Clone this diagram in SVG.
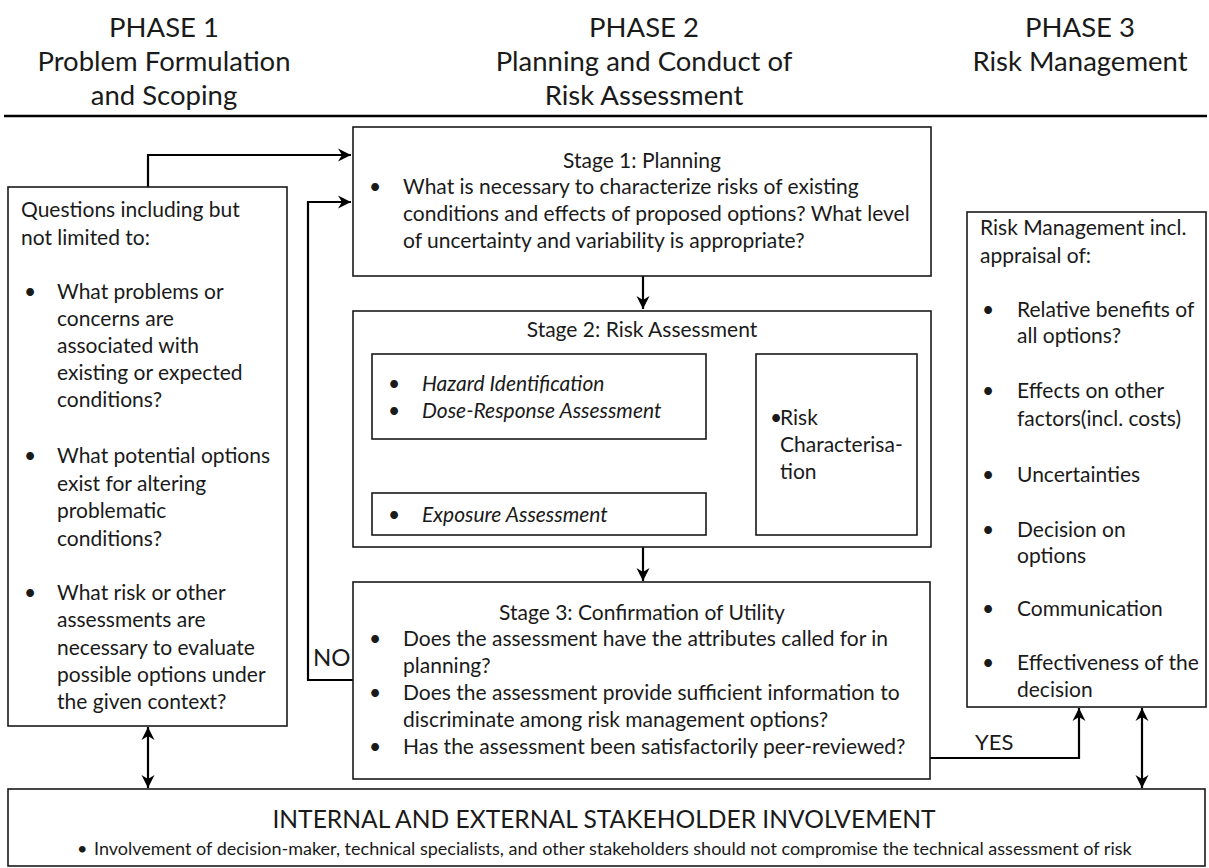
<svg xmlns="http://www.w3.org/2000/svg" width="1209" height="868" viewBox="0 0 1209 868">
<style>
text{font-family:Lato,"Liberation Sans",sans-serif;fill:#1a1a1a;}
.hd{font-size:27.5px;text-anchor:middle;}
.b{font-size:21px;}
.t{font-size:21px;text-anchor:middle;}
.i{font-size:21px;font-style:italic;}
.box{fill:#fff;stroke:#1a1a1a;stroke-width:1.6;}
.con{fill:none;stroke:#000;stroke-width:2.2;}
</style>
<defs>
<marker id="ah" markerUnits="userSpaceOnUse" markerWidth="16" markerHeight="16" refX="14" refY="8" orient="auto-start-reverse">
<path d="M1,1.5 L14,8 L1,14.5 L5,8 Z" fill="#000"/>
</marker>
</defs>
<rect width="1209" height="868" fill="#fff"/>

<g id="headers">
<text class="hd" x="164" y="37">PHASE 1</text>
<text class="hd" x="164" y="71">Problem Formulation</text>
<text class="hd" x="164" y="105">and Scoping</text>
<text class="hd" x="644" y="37">PHASE 2</text>
<text class="hd" x="644" y="71">Planning and Conduct of</text>
<text class="hd" x="644" y="105">Risk Assessment</text>
<text class="hd" x="1080" y="37">PHASE 3</text>
<text class="hd" x="1080" y="71">Risk Management</text>
<line x1="4" y1="116" x2="1207" y2="116" stroke="#000" stroke-width="2.5"/>
</g>

<g id="connectors">
<path class="con" d="M148,187 V155 H351" marker-end="url(#ah)"/>
<path class="con" d="M353,680 H308 V202 H351" marker-end="url(#ah)"/>
<path class="con" d="M643,276 V309" marker-end="url(#ah)"/>
<path class="con" d="M540,439 V493"/>
<path class="con" d="M540,470 H754" marker-end="url(#ah)"/>
<path class="con" d="M643,547 V581" marker-end="url(#ah)"/>
<path class="con" d="M930,758 H1079 V708" marker-end="url(#ah)"/>
<path class="con" d="M1142,708 V788" marker-start="url(#ah)" marker-end="url(#ah)"/>
<path class="con" d="M148,727 V788" marker-start="url(#ah)" marker-end="url(#ah)"/>
</g>

<g id="questions">
<rect class="box" x="8" y="187" width="279" height="539"/>
<text class="b" x="21" y="217">Questions including but</text>
<text class="b" x="21" y="245">not limited to:</text>
<text class="b" x="24" y="299">•</text>
<text class="b" x="57" y="299">What problems or</text>
<text class="b" x="57" y="326">concerns are</text>
<text class="b" x="57" y="353">associated with</text>
<text class="b" x="57" y="380">existing or expected</text>
<text class="b" x="57" y="407">conditions?</text>
<text class="b" x="24" y="463">•</text>
<text class="b" x="57" y="463">What potential options</text>
<text class="b" x="57" y="491">exist for altering</text>
<text class="b" x="57" y="518">problematic</text>
<text class="b" x="57" y="546">conditions?</text>
<text class="b" x="24" y="600">•</text>
<text class="b" x="57" y="600">What risk or other</text>
<text class="b" x="57" y="627">assessments are</text>
<text class="b" x="57" y="655">necessary to evaluate</text>
<text class="b" x="57" y="682">possible options under</text>
<text class="b" x="57" y="709">the given context?</text>
</g>

<g id="stage1">
<rect class="box" x="353" y="127" width="578" height="149"/>
<text class="t" x="642" y="168">Stage 1: Planning</text>
<text class="b" x="369" y="194">•</text>
<text class="b" x="403" y="194">What is necessary to characterize risks of existing</text>
<text class="b" x="403" y="221">conditions and effects of proposed options? What level</text>
<text class="b" x="403" y="248">of uncertainty and variability is appropriate?</text>
</g>

<g id="stage2">
<rect class="box" x="353" y="311" width="578" height="236"/>
<text class="t" x="642" y="337">Stage 2: Risk Assessment</text>
</g>

<g id="hazard">
<rect class="box" x="372" y="354" width="334" height="85"/>
<text class="b" x="388" y="391">•</text>
<text class="i" x="422" y="391">Hazard Identification</text>
<text class="b" x="388" y="418">•</text>
<text class="i" x="422" y="418">Dose-Response Assessment</text>
</g>

<g id="exposure">
<rect class="box" x="372" y="493" width="334" height="42"/>
<text class="b" x="388" y="522">•</text>
<text class="i" x="422" y="522">Exposure Assessment</text>
</g>

<g id="riskchar">
<rect class="box" x="756" y="354" width="161" height="181"/>
<text class="b" x="770" y="425">•</text>
<text class="b" x="780" y="425">Risk</text>
<text class="b" x="780" y="452">Characterisa-</text>
<text class="b" x="780" y="479">tion</text>
</g>

<g id="stage3">
<rect class="box" x="353" y="582" width="577" height="197"/>
<text class="t" x="642" y="620">Stage 3: Confirmation of Utility</text>
<text class="b" x="369" y="646">•</text>
<text class="b" x="403" y="646">Does the assessment have the attributes called for in</text>
<text class="b" x="403" y="673">planning?</text>
<text class="b" x="369" y="700">•</text>
<text class="b" x="403" y="700">Does the assessment provide sufficient information to</text>
<text class="b" x="403" y="727">discriminate among risk management options?</text>
<text class="b" x="369" y="754">•</text>
<text class="b" x="403" y="754">Has the assessment been satisfactorily peer-reviewed?</text>
</g>

<g id="labels">
<text class="b" x="313" y="666" style="font-size:24px">NO</text>
<text class="b" x="975" y="750" style="font-size:22px">YES</text>
</g>

<g id="riskmgmt">
<rect class="box" x="967" y="212" width="239" height="495"/>
<text class="b" x="980" y="235">Risk Management incl.</text>
<text class="b" x="980" y="263">appraisal of:</text>
<text class="b" x="982" y="317">•</text>
<text class="b" x="1017" y="317">Relative benefits of</text>
<text class="b" x="1017" y="343">all options?</text>
<text class="b" x="982" y="398">•</text>
<text class="b" x="1017" y="398">Effects on other</text>
<text class="b" x="1017" y="426">factors(incl. costs)</text>
<text class="b" x="982" y="482">•</text>
<text class="b" x="1017" y="482">Uncertainties</text>
<text class="b" x="982" y="537">•</text>
<text class="b" x="1017" y="537">Decision on</text>
<text class="b" x="1017" y="563">options</text>
<text class="b" x="982" y="616">•</text>
<text class="b" x="1017" y="616">Communication</text>
<text class="b" x="982" y="670">•</text>
<text class="b" x="1017" y="670">Effectiveness of the</text>
<text class="b" x="1017" y="697">decision</text>
</g>

<g id="stakeholder">
<rect class="box" x="8" y="789" width="1197" height="77"/>
<text x="604" y="828" style="font-size:24.6px;text-anchor:middle">INTERNAL AND EXTERNAL STAKEHOLDER INVOLVEMENT</text>
<text x="77" y="855" style="font-size:18px">•</text>
<text x="94" y="855" style="font-size:18px">Involvement of decision-maker, technical specialists, and other stakeholders should not compromise the technical assessment of risk</text>
</g>
</svg>
